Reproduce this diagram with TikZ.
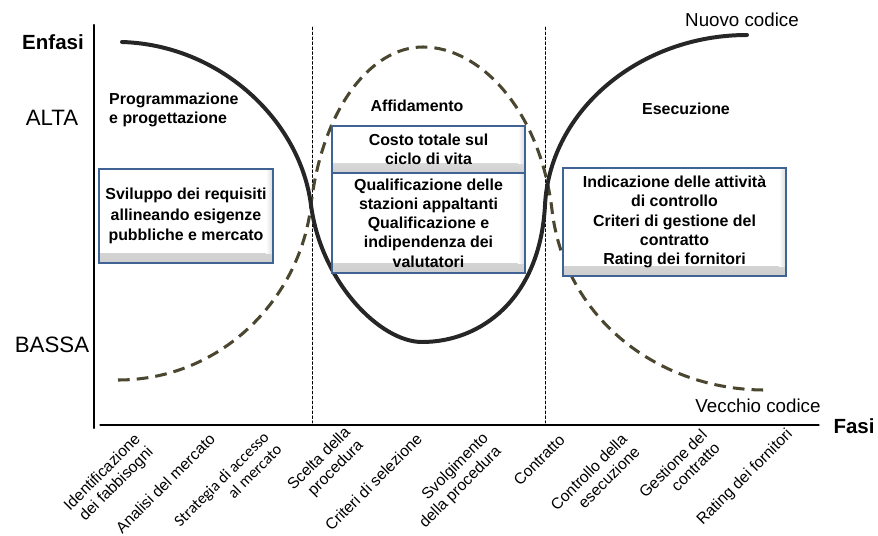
\documentclass[tikz,border=0pt]{standalone}
\usepackage{fontspec}
\setmainfont{Liberation Sans}
\newfontfamily\carlitofont{Carlito}
\usepackage{tkz-euclide}
\usetikzlibrary{calc}

\definecolor{nuovocol}{HTML}{262626}
\definecolor{vecchiocol}{HTML}{4A4630}
\definecolor{boxblue}{HTML}{3F6395}

\tikzset{
  phasebox/.style={draw=boxblue, line width=1pt, fill=white, align=center, inner sep=2pt,
    font=\fontsize{13.6}{16.4}\selectfont\bfseries,
    path picture={
      \shade[top color=white, bottom color=gray!38]
        ([yshift=8pt]path picture bounding box.south west) rectangle (path picture bounding box.south east);
      \shade[left color=white, right color=gray!30]
        ([xshift=-6pt]path picture bounding box.north east) rectangle ([yshift=8pt]path picture bounding box.south east);
    }},
  phasetitle/.style={font=\fontsize{13.6}{16.4}\selectfont\bfseries, inner sep=0pt},
  levellabel/.style={font=\fontsize{19}{22}\selectfont, inner sep=0pt},
  axistitle/.style={font=\fontsize{17.5}{20}\selectfont\bfseries, inner sep=0pt},
  codelabel/.style={font=\fontsize{16}{19}\selectfont, inner sep=0pt},
  steplabel/.style={rotate=45, anchor=north east, align=right, inner sep=0pt,
    font=\fontsize{13.4}{15.5}\selectfont},
  nuovo/.style={nuovocol, line width=3.4pt, line cap=round},
  vecchio/.style={vecchiocol, line width=2.6pt, dash pattern=on 10pt off 6pt},
  divider/.style={black, line width=0.5pt, dash pattern=on 2.5pt off 1.7pt}
}

\begin{document}
\begin{tikzpicture}[x=0.03cm, y=-0.03cm]
            \useasboundingbox (0,0) rectangle (878,535);
            \tkzDefPoints{94/25/Y,94/428/O,100/425/A,819/425/X,312/27/P,312/423/Q,545/27/R,545/423/S}
            \tkzDrawSegments[line width=2pt](O,Y)
            \tkzDrawSegments[line width=1pt](A,X)
            \tkzDrawSegments[divider](P,Q R,S)

            \draw[vecchio] (118,380) .. controls (220,380) and (300,300) .. (311,205)
              .. controls (322,110) and (370,47) .. (423,47)
              .. controls (480,47) and (540,110) .. (552,210)
              .. controls (565,320) and (660,390) .. (765,390);
            \draw[nuovo] (122,42) .. controls (220,45) and (300,120) .. (311,205)
              .. controls (321,282) and (380,342) .. (422,342)
              .. controls (480,342) and (540,300) .. (545,205)
              .. controls (550,110) and (640,35) .. (747,35);

            \node[axistitle] (enfasi) at (53,42) {Enfasi};
            \node[levellabel] (alta) at (52,118) {ALTA};
            \node[levellabel] (bassa) at (52,345) {BASSA};
            \node[axistitle] (fasi) at (854,426) {Fasi};
            \node[codelabel] (nuovocodice) at (742,20) {Nuovo codice};
            \node[codelabel] (vecchiocodice) at (758,406) {Vecchio codice};

            \node[phasetitle, align=left, anchor=west] (programmazione) at (109,110) {Programmazione\\e progettazione};
            \node[phasetitle] (affidamento) at (417,106) {Affidamento};
            \node[phasetitle] (esecuzione) at (686,109) {Esecuzione};

            \node[phasebox, minimum width=5.22cm, minimum height=2.82cm,
              font=\fontsize{13.6}{17.6}\selectfont\bfseries] (requisiti) at (186,216)
              {Sviluppo dei requisiti\\allineando esigenze\\pubbliche e mercato};
            \node[phasebox, minimum width=5.79cm, minimum height=1.41cm] (costo) at (428.5,149.5)
              {Costo totale sul\\ciclo di vita};
            \node[phasebox, minimum width=5.79cm, minimum height=3cm] (qualificazione) at (428.5,223)
              {Qualificazione delle\\stazioni appaltanti\\Qualificazione e\\indipendenza dei\\valutatori};
            \node[phasebox, minimum width=6.69cm, minimum height=3.24cm] (controllo) at (674.5,222)
              {Indicazione delle attività\\di controllo\\Criteri di gestione del\\contratto\\Rating dei fornitori};

            \node[steplabel] (fabbisogni) at (133,432) {Identificazione\\dei fabbisogni};
            \node[steplabel] (analisi) at (208,432) {Analisi del mercato};
            \node[steplabel, font=\fontsize{13.6}{15.5}\selectfont\carlitofont] (strategia) at (262,430) {Strategia di accesso\\al mercato};
            \node[steplabel] (scelta) at (343,425) {Scelta della\\procedura};
            \node[steplabel] (criteri) at (415,432) {Criteri di selezione};
            \node[steplabel] (svolgimento) at (481,431) {Svolgimento\\della procedura};
            \node[steplabel] (contratto) at (558,433) {Contratto};
            \node[steplabel] (esecuzionefase) at (620,432) {Controllo della\\esecuzione};
            \node[steplabel] (gestione) at (700,428) {Gestione del\\contratto};
            \node[steplabel] (rating) at (785,427) {Rating dei fornitori};
        \end{tikzpicture}
\end{document}
